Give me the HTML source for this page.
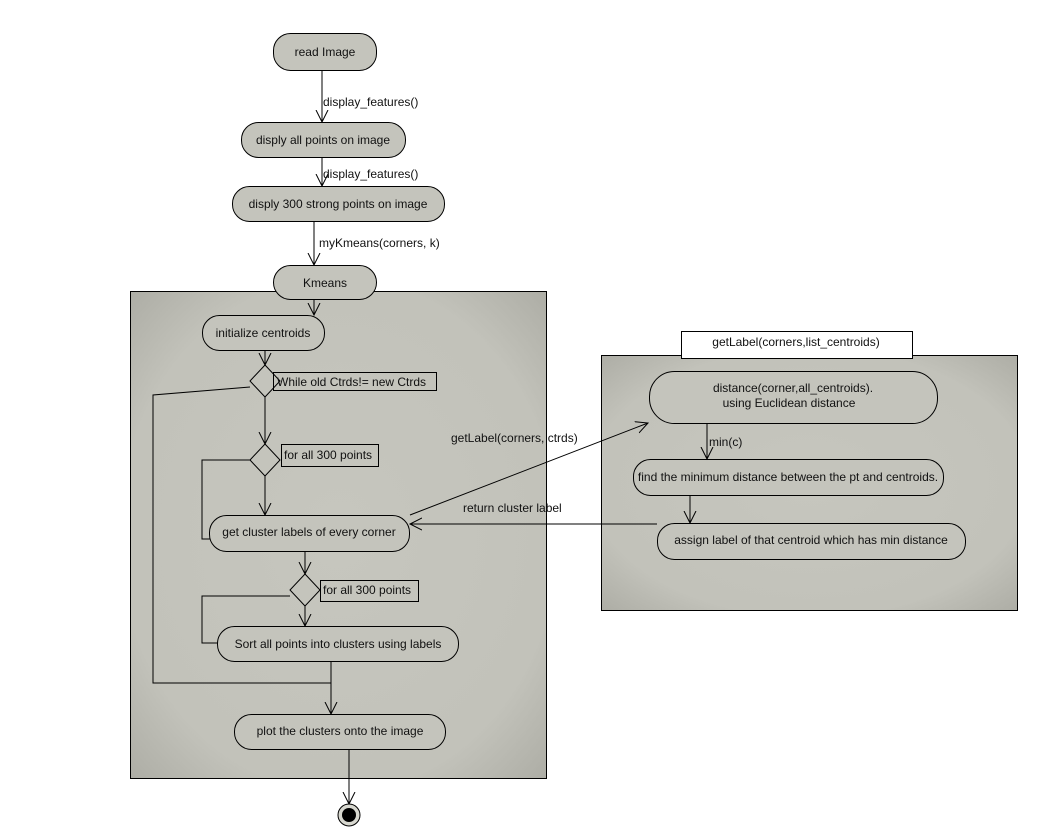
<!DOCTYPE html>
<html><head><meta charset="utf-8"><style>
html,body{margin:0;padding:0;background:#fff;}
svg{display:block;}
text{font-family:"Liberation Sans",Arial,sans-serif;font-size:12px;fill:#111;}
</style></head><body>
<svg width="1039" height="838" viewBox="0 0 1039 838" xmlns="http://www.w3.org/2000/svg">
<defs>
<radialGradient id="cg" cx="50%" cy="50%" r="70%">
<stop offset="0" stop-color="#c6c6be"/><stop offset="0.75" stop-color="#c2c2ba"/><stop offset="1" stop-color="#aeaea6"/>
</radialGradient>
<marker id="ar" markerWidth="14" markerHeight="14" refX="12" refY="7" orient="auto" markerUnits="userSpaceOnUse">
<path d="M0,1 L12,7 L0,13" fill="none" stroke="#000" stroke-width="1"/>
</marker>
</defs>
<g stroke="#000" stroke-width="1">
<rect x="130.5" y="291.5" width="416" height="487" fill="url(#cg)"/>
<rect x="601.5" y="355.5" width="416" height="255" fill="url(#cg)"/>
<rect x="681.5" y="331.5" width="231" height="27" fill="#fff"/>
</g>
<g fill="#c4c4bc" stroke="#000" stroke-width="1">
<rect x="273.5" y="33.5" width="103" height="37" rx="17"/>
<rect x="241.5" y="122.5" width="164" height="35" rx="17"/>
<rect x="232.5" y="186.5" width="212" height="35" rx="17"/>
<rect x="273.5" y="265.5" width="103" height="34" rx="17"/>
<rect x="202.5" y="315.5" width="122" height="35" rx="17"/>
<rect x="209.5" y="515.5" width="200" height="36" rx="17"/>
<rect x="217.5" y="626.5" width="241" height="35" rx="17"/>
<rect x="234.5" y="714.5" width="211" height="35" rx="17"/>
<rect x="649.5" y="371.5" width="288" height="52" rx="25"/>
<rect x="633.5" y="459.5" width="310" height="36" rx="17"/>
<rect x="657.5" y="523.5" width="308" height="36" rx="17"/>
<path d="M265,365 L280,381 L265,397 L250,381 Z"/>
<path d="M265,444 L280,460 L265,476 L250,460 Z"/>
<path d="M305,574 L320,590 L305,606 L290,590 Z"/>
</g>
<g fill="none" stroke="#000" stroke-width="1">
<rect x="273.5" y="372.5" width="163" height="18"/>
<rect x="281.5" y="444.5" width="97" height="22"/>
<rect x="320.5" y="580.5" width="98" height="21"/>
<line x1="322" y1="70" x2="322" y2="122" marker-end="url(#ar)"/>
<line x1="322" y1="157" x2="322" y2="186" marker-end="url(#ar)"/>
<line x1="314" y1="221" x2="314" y2="265" marker-end="url(#ar)"/>
<line x1="314" y1="299" x2="314" y2="315" marker-end="url(#ar)"/>
<line x1="265" y1="350" x2="265" y2="365" marker-end="url(#ar)"/>
<line x1="265" y1="397" x2="265" y2="444" marker-end="url(#ar)"/>
<line x1="265" y1="476" x2="265" y2="515" marker-end="url(#ar)"/>
<line x1="305" y1="551" x2="305" y2="574" marker-end="url(#ar)"/>
<line x1="305" y1="606" x2="305" y2="626" marker-end="url(#ar)"/>
<line x1="331" y1="661" x2="331" y2="714" marker-end="url(#ar)"/>
<line x1="349" y1="749" x2="349" y2="804" marker-end="url(#ar)"/>
<polyline points="250,387 153,395 153,683 331,683"/>
<polyline points="250,460 202,460 202,539 210,539"/>
<polyline points="290,596 202,596 202,643 218,643"/>
<line x1="410" y1="515" x2="648" y2="423" marker-end="url(#ar)"/>
<line x1="657" y1="524" x2="410" y2="524" marker-end="url(#ar)"/>
<line x1="707" y1="423" x2="707" y2="459" marker-end="url(#ar)"/>
<line x1="690" y1="495" x2="690" y2="523" marker-end="url(#ar)"/>
</g>
<circle cx="349" cy="815" r="11" fill="#d8d8d0" stroke="#000"/>
<circle cx="349" cy="815" r="7" fill="#000"/>
<g>
<text x="325" y="56" text-anchor="middle">read Image</text>
<text x="323" y="144" text-anchor="middle">disply all points on image</text>
<text x="338" y="208" text-anchor="middle">disply 300 strong points on image</text>
<text x="325" y="287" text-anchor="middle">Kmeans</text>
<text x="263" y="337" text-anchor="middle">initialize centroids</text>
<text x="309" y="536" text-anchor="middle">get cluster labels of every corner</text>
<text x="338" y="648" text-anchor="middle">Sort all points into clusters using labels</text>
<text x="340" y="735" text-anchor="middle">plot the  clusters onto the image</text>
<text x="277" y="386">While old Ctrds!= new Ctrds</text>
<text x="284" y="459">for all 300 points</text>
<text x="323" y="594">for all  300 points</text>
<text x="323" y="106">display_features()</text>
<text x="323" y="178">display_features()</text>
<text x="319" y="247">myKmeans(corners, k)</text>
<text x="451" y="442">getLabel(corners, ctrds)</text>
<text x="463" y="512">return cluster label</text>
<text x="709" y="446">min(c)</text>
<text x="796" y="346" text-anchor="middle">getLabel(corners,list_centroids)</text>
<text x="793" y="392" text-anchor="middle">distance(corner,all_centroids).</text>
<text x="789" y="407" text-anchor="middle">using  Euclidean distance</text>
<text x="788" y="481" text-anchor="middle">find the minimum distance between the pt and centroids.</text>
<text x="811" y="544" text-anchor="middle">assign label of that centroid which has min distance</text>
</g>
</svg>
</body></html>
